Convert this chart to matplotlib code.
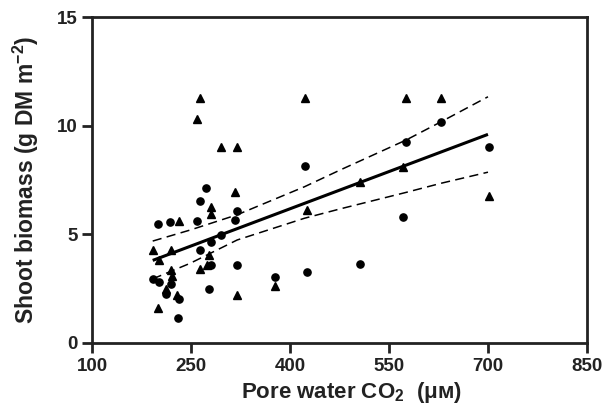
import matplotlib
matplotlib.use("Agg")
import matplotlib.pyplot as plt
import numpy as np

plt.rcParams["font.family"] = ["Liberation Sans", "DejaVu Sans"]
plt.rcParams["font.weight"] = "bold"
plt.rcParams["mathtext.fontset"] = "custom"
plt.rcParams["mathtext.bf"] = "Liberation Sans:bold"
plt.rcParams["mathtext.rm"] = "Liberation Sans:bold"
plt.rcParams["mathtext.default"] = "bf"

# circles
circ_x = [273, 263, 422, 320, 316, 259, 218, 200, 296, 281, 264, 281, 320,
          192, 202, 220, 212, 232, 230, 378, 278, 426, 576, 629, 701, 571, 506]
circ_y = [7.13, 6.53, 8.13, 6.07, 5.64, 5.61, 5.58, 5.46, 4.98, 4.63, 4.28, 3.57, 3.61,
          2.95, 2.80, 2.70, 2.27, 2.03, 1.14, 3.04, 2.48, 3.27, 9.25, 10.17, 9.03, 5.81, 3.63]
# triangles
tri_x = [263, 259, 296, 320, 422, 316, 281, 281, 232, 426, 193, 219, 202, 278,
         220, 221, 264, 274, 212, 229, 320, 378, 200, 576, 629, 572, 506, 701]
tri_y = [11.26, 10.31, 9.03, 9.03, 11.26, 6.93, 6.27, 5.93, 5.63, 6.10, 4.28, 4.28,
         3.82, 4.04, 3.38, 3.10, 3.39, 3.59, 2.50, 2.20, 2.22, 2.62, 1.62, 11.26,
         11.26, 8.11, 7.42, 6.78]
# regression line and 95% band
fit_x = [192, 700]
fit_y = [3.80, 9.60]
band_x = [192, 249, 320, 422, 476, 576, 629, 700]
upper_y = [4.69, 5.20, 5.90, 7.19, 7.96, 9.34, 10.18, 11.33]
lower_y = [2.95, 3.67, 4.74, 5.74, 6.17, 6.93, 7.35, 7.86]

x_ticks = [100, 250, 400, 550, 700, 850]
y_ticks = [0, 5, 10, 15]

fig = plt.figure(figsize=(6.06, 4.17), dpi=100)
ax = fig.add_axes([0.1518, 0.1775, 0.8168, 0.7817])

ax.plot(circ_x, circ_y, "o", ms=5.2, color="black", mec="black")
ax.plot(tri_x, tri_y, "^", ms=5.6, color="black", mec="black")
ax.plot(fit_x, fit_y, "-", color="black", lw=2.2, solid_capstyle="butt")
ax.plot(band_x, upper_y, "--", color="black", lw=1.1, dashes=(6, 3.5))
ax.plot(band_x, lower_y, "--", color="black", lw=1.1, dashes=(6, 3.5))

ax.set_xlim(100, 850)
ax.set_ylim(0, 15)
ax.set_xticks(x_ticks)
ax.set_yticks(y_ticks)
for sp in ax.spines.values():
    sp.set_linewidth(2.0)
    sp.set_color("#222222")
ax.tick_params(direction="out", length=7, width=2.0, labelsize=13.5, color="#222222")
ax.tick_params(axis="x", pad=4)
ax.tick_params(axis="y", pad=3)
for lbl in ax.get_xticklabels() + ax.get_yticklabels():
    lbl.set_fontweight("bold")
    lbl.set_color("#222222")

ax.set_xlabel("Pore water CO$_2$  (μ\u1d0d)", fontsize=16, fontweight="bold",
              labelpad=4, color="#222222")
ax.xaxis.set_label_coords(0.525, -0.115)
ax.set_ylabel(r"Shoot biomass (g DM m$^{-2}$)", fontsize=16.5, fontweight="bold",
              labelpad=12, color="#222222")

fig.savefig("out.png", dpi=100, facecolor="white")
